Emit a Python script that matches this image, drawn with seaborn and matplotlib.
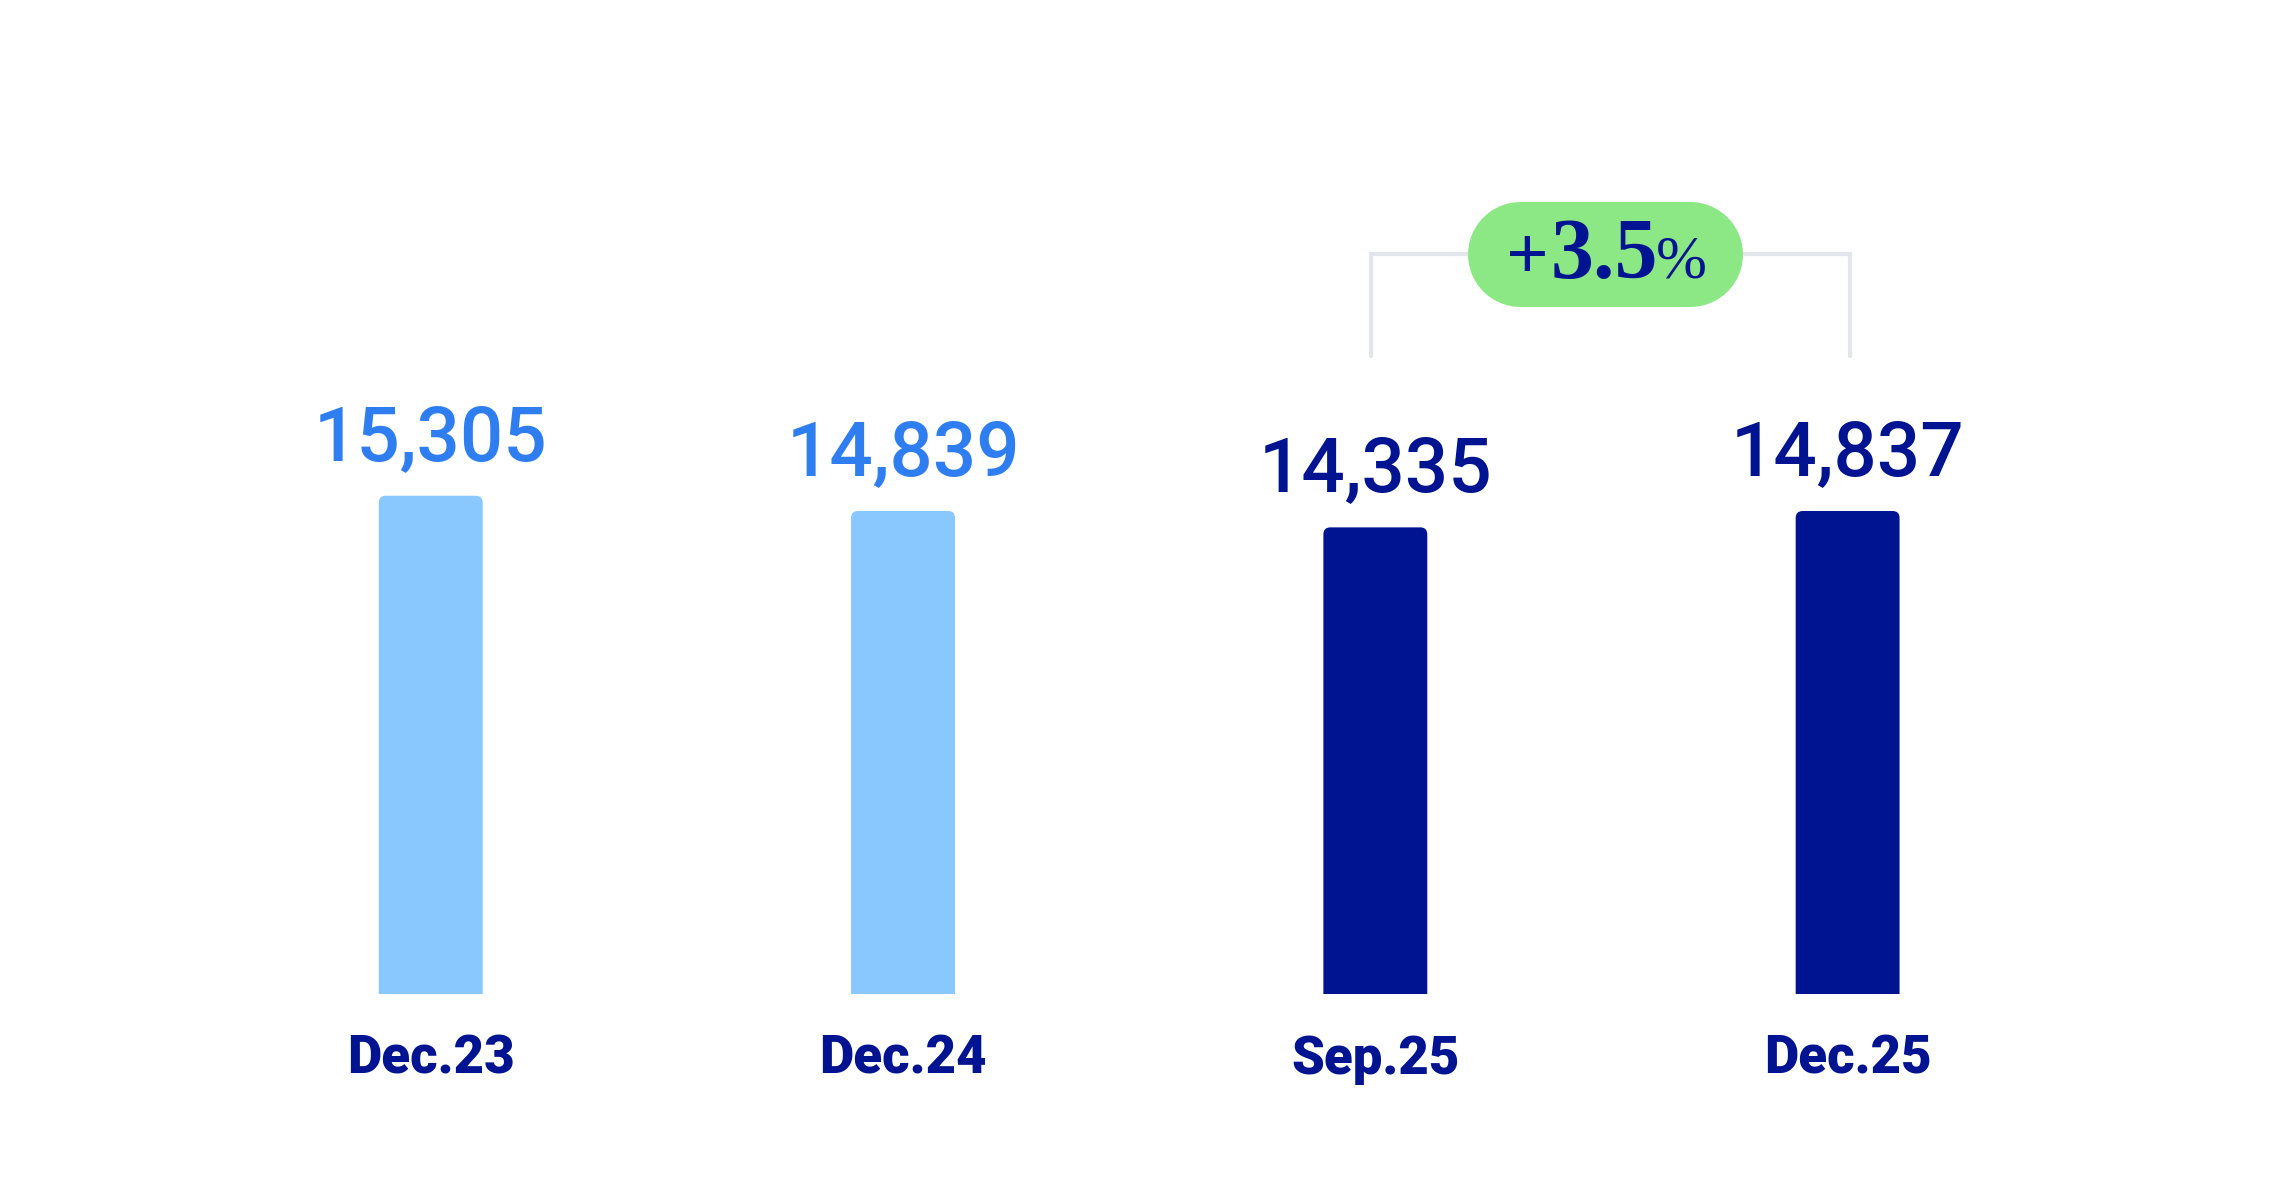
import matplotlib
matplotlib.use('Agg')
import matplotlib.pyplot as plt
import seaborn as sns
from matplotlib.patches import FancyBboxPatch, Rectangle

# Chart data
periods = ['Dec.23', 'Dec.24', 'Sep.25', 'Dec.25']
values = [15305, 14839, 14335, 14837]
value_labels = ['15,305', '14,839', '14,335', '14,837']
change_label = '3.5'

# Colours
light_bar = '#88C8FF'
light_text = '#2E7EF2'
navy = '#001391'
green = '#8BE884'
bracket_grey = '#E2E5EA'
bar_colors = [light_bar, light_bar, navy, navy]
text_colors = [light_text, light_text, navy, navy]

sns.set_theme(style='white')
plt.rcParams['font.family'] = ['Roboto', 'DejaVu Sans']

fig = plt.figure(figsize=(22.93, 11.88), dpi=100)
ax = fig.add_axes([0, 0, 1, 1])

sns.barplot(x=periods, y=values, hue=periods, palette=bar_colors, width=0.22,
            saturation=1, linewidth=0, legend=False, ax=ax)

ax.set_xlim(-0.912, 3.943)
ax.set_ylim(-5940, 30520)
ax.axis('off')

# Redraw the bars with rounded top corners (radius ~7 px); bottom stays square
x_per_px = (3.943 + 0.912) / 2293
y_per_px = (30520 + 5940) / 1188
r = 7 * x_per_px
drop = 20 * y_per_px
for bar in list(ax.patches):
    x0, w, h = bar.get_x(), bar.get_width(), bar.get_height()
    rounded = FancyBboxPatch((x0, -drop), w, h + drop,
                             boxstyle=f'round,pad=0,rounding_size={r}',
                             mutation_aspect=y_per_px / x_per_px, linewidth=0,
                             facecolor=bar.get_facecolor(), edgecolor='none',
                             zorder=bar.get_zorder())
    ax.add_patch(rounded)
    clip = Rectangle((x0 - w, 0), 3 * w, h * 2, transform=ax.transData)
    rounded.set_clip_path(clip)
    bar.set_visible(False)

# Value labels above the bars
for i, (v, lbl) in enumerate(zip(values, value_labels)):
    ax.annotate(lbl, (i, v), xytext=(0, 26), textcoords='offset points',
                ha='center', va='baseline', fontsize=55, fontweight='medium',
                color=text_colors[i])

# Category labels under the bars
for i, p in enumerate(periods):
    ax.text(i, -2440, p, ha='center', va='baseline', fontsize=38,
            fontweight='heavy', color=navy)

# Bracket between Sep.25 and Dec.25
bracket_low, bracket_top = 19600, 22725
ax.plot([1.99, 1.99, 3.005, 3.005], [bracket_low, bracket_top, bracket_top, bracket_low],
        color=bracket_grey, lw=3, solid_joinstyle='miter', zorder=1)

# Green pill with the change figure
ax.plot([2.306, 2.667], [bracket_top, bracket_top], color=green, lw=75.6,
        solid_capstyle='round', zorder=2)
ax.text(2.484, 21989, change_label, ha='center', va='baseline', fontsize=62,
        fontweight='bold', family='Liberation Serif', color=navy, zorder=3)
ax.text(2.368, 21989, '+', ha='right', va='baseline', fontsize=54,
        fontweight='bold', family='Liberation Serif', color=navy, zorder=3)
ax.text(2.593, 21989, '%', ha='left', va='baseline', fontsize=44,
        family='Liberation Serif', color=navy, zorder=3)

plt.savefig('out.png', dpi=100)
